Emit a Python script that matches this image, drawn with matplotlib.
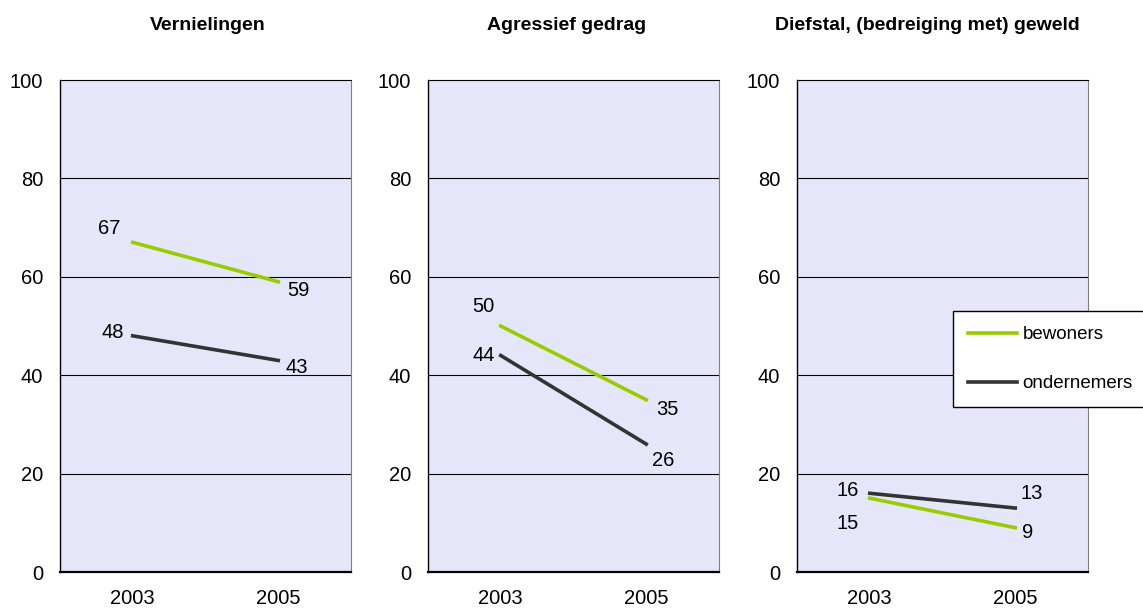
import matplotlib
matplotlib.use("Agg")
import matplotlib.pyplot as plt

plt.rcParams["font.family"] = ["Liberation Sans", "DejaVu Sans"]

years = ["2003", "2005"]
titles = ["Vernielingen", "Agressief gedrag", "Diefstal, (bedreiging met) geweld"]
bewoners = [[67, 59], [50, 35], [15, 9]]
ondernemers = [[48, 43], [44, 26], [16, 13]]
series_names = ["bewoners", "ondernemers"]
yticks = [0, 20, 40, 60, 80, 100]

green = "#99CC00"
dark = "#333333"
bg = "#E6E6FA"

# label offsets in pixels (dx, dy) per panel: [bew2003, bew2005, ond2003, ond2005]
offsets = [
    [(-24, 14), (20, -9), (-20, 3), (18, -7)],
    [(-17, 20), (21, -10), (-17, 0), (17, -16)],
    [(-22, -25), (12, -5), (-22, 3), (16, 15)],
]

W, H = 1143, 612
fig = plt.figure(figsize=(W / 100, H / 100), dpi=100)
lefts = [60, 428, 797]
title_x = [208, 567, 927]
axw, bottom, top = 291, 572, 80

axes = []
for i in range(3):
    ax = fig.add_axes([lefts[i] / W, (H - bottom) / H, axw / W, (bottom - top) / H])
    axes.append(ax)
    ax.set_facecolor(bg)
    ax.set_xlim(-0.5, 1.5)
    ax.set_ylim(0, 100)
    ax.set_yticks(yticks)
    ax.set_xticks([0, 1])
    ax.set_xticklabels(years)
    ax.tick_params(length=0, labelsize=14.5)
    ax.tick_params(axis="x", pad=12)
    ax.tick_params(axis="y", pad=12)
    for y in yticks[1:-1]:
        ax.axhline(y, color="black", lw=0.8, zorder=1)
    ax.spines["left"].set_color("black")
    ax.spines["top"].set_color("black")
    ax.spines["right"].set_color("#808080")
    ax.spines["bottom"].set_color("black")
    ax.spines["bottom"].set_linewidth(1.6)
    ax.spines["left"].set_linewidth(1.0)
    l1, = ax.plot([0, 1], bewoners[i], color=green, lw=2.6, zorder=3, label=series_names[0])
    l2, = ax.plot([0, 1], ondernemers[i], color=dark, lw=2.6, zorder=3, label=series_names[1])
    vals = [(0, bewoners[i][0]), (1, bewoners[i][1]), (0, ondernemers[i][0]), (1, ondernemers[i][1])]
    for (xv, yv), (dx, dy) in zip(vals, offsets[i]):
        ax.annotate(str(yv), (xv, yv), xytext=(dx, dy), textcoords="offset pixels",
                    ha="center", va="center", fontsize=14.5, zorder=4)
    fig.text(title_x[i] / W, 1 - 25 / H, titles[i], ha="center", va="center",
             fontsize=14, fontweight="bold")

leg = fig.legend([l1, l2], series_names, loc="upper left",
                 bbox_to_anchor=(953 / W, 1 - 311 / H), fontsize=13.5,
                 frameon=True, fancybox=False, handlelength=2.6, handletextpad=0.3,
                 labelspacing=1.7, borderpad=0.8, borderaxespad=0, framealpha=1)
leg.get_frame().set_edgecolor("black")
leg.get_frame().set_linewidth(1.0)
leg.set_zorder(10)

fig.savefig("out.png", dpi=100, facecolor="white")
